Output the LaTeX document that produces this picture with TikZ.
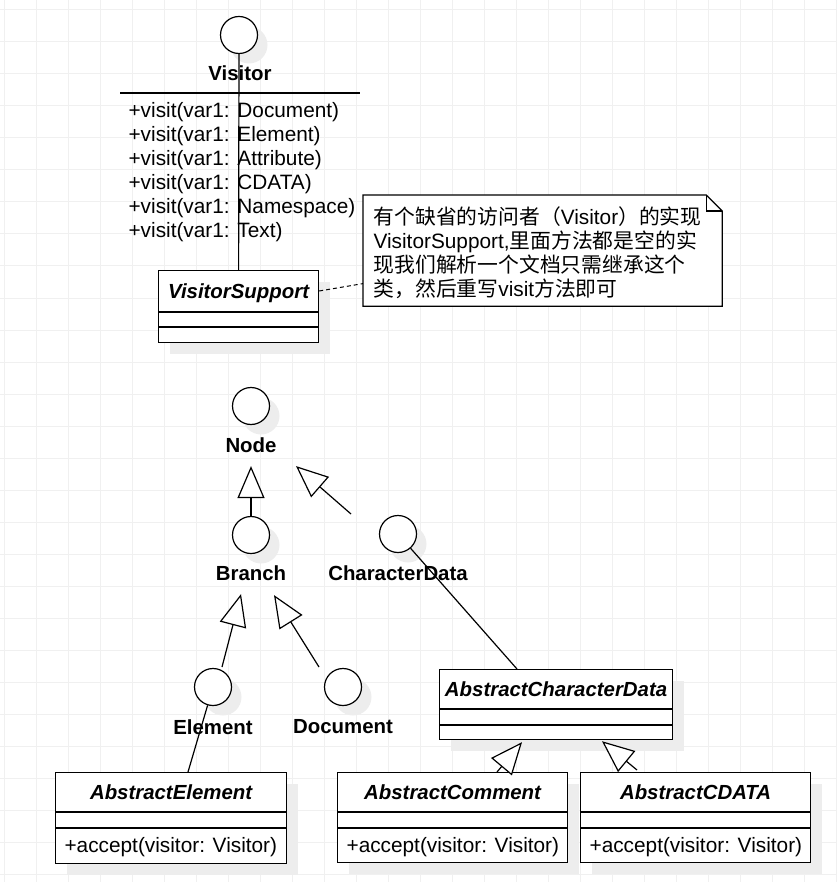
\documentclass[tikz,border=0pt]{standalone}
\usepackage{fontspec}
\setmainfont{Liberation Sans}
\newfontfamily\cjkfont{Noto Sans CJK SC}
\usepackage{tikz}
\usetikzlibrary{positioning}
\usetikzlibrary{calc, shadows, arrows.meta}

\definecolor{gridgray}{HTML}{F0F0F0}
\definecolor{shadowgray}{HTML}{EDEDED}

\begin{document}
\begin{tikzpicture}[x=1pt, y=-1pt, line width=1.2pt]
	\tikzstyle{txt}=[font=\fontsize{20.8}{24}\selectfont, inner sep=0pt]
	\tikzstyle{lbl}=[font=\fontsize{20.4}{24}\selectfont\bfseries, inner sep=0pt]
	\tikzstyle{cname}=[font=\fontsize{20.4}{24}\selectfont\bfseries\itshape, inner sep=0pt]
	\tikzstyle{iface}=[draw, circle, fill=white, minimum size=37pt, inner sep=0pt, drop shadow={shadow xshift=10pt, shadow yshift=-10pt, fill=shadowgray, opacity=1}]
	\tikzstyle{classbox}=[draw, rectangle, fill=white, anchor=north west, inner sep=0pt, drop shadow={shadow xshift=11pt, shadow yshift=-11pt, fill=shadowgray, opacity=1}]
	\tikzstyle{inherit}=[-{Triangle[length=32pt, width=27pt, fill=white]}]

	\useasboundingbox (0,0) rectangle (836,882);
	% grid
	\foreach \gx in {4,36,...,836} \draw[gridgray, line width=1pt] (\gx,0) -- (\gx,882);
	\foreach \gy in {10,42,...,882} \draw[gridgray, line width=1pt] (0,\gy) -- (836,\gy);

	% visitor interface
	\node[iface] (visitorCircle) at (239,35) {};
	\node[lbl] (visitorLabel) at (240,73) {Visitor};
	\draw ($(visitorLabel)+(-120,20)$) -- ($(visitorLabel)+(120,20)$);
	\foreach \t [count=\i] in {Document, Element, Attribute, CDATA, Namespace, Text}
		\node[txt, anchor=west] (visit\i) at (128, 88+24*\i) {+visit(var1: \t)};

	\node[classbox, minimum width=160pt, minimum height=72pt] (visitorSupport) at (158,270) {};
	\node[cname] (visitorSupportName) at ($(visitorSupport.north)+(0,23)$) {VisitorSupport};
	\draw ($(visitorSupport.north west)+(0,42)$) -- ($(visitorSupport.north east)+(0,42)$);
	\draw ($(visitorSupport.north west)+(0,57)$) -- ($(visitorSupport.north east)+(0,57)$);
	\draw (visitorCircle) -- (visitorSupport.north);

	% note
	\node[minimum width=358pt, minimum height=110pt, anchor=north west, inner sep=0pt] (note) at (363,195) {};
	\draw[fill=white] (note.north west) -- ($(note.north east)+(-16,0)$) -- ($(note.north east)+(0,16)$)
		-- (note.south east) -- (note.south west) -- cycle;
	\draw ($(note.north east)+(-16,0)$) -- ++(0,16) -- ++(16,0);
	\node[txt, align=left, anchor=west] (noteText) at ($(note.west)+(10,2)$)
		{{\cjkfont 有个缺省的访问者（}Visitor{\cjkfont ）的实现}\\
		VisitorSupport,{\cjkfont 里面方法都是空的实}\\
		{\cjkfont 现我们解析一个文档只需继承这个}\\
		{\cjkfont 类，然后重写}visit{\cjkfont 方法即可}};
	\draw[dash pattern=on 4pt off 3pt, line width=1pt] ($(visitorSupport.north east)+(0,21)$) -- ($(note.west)+(0,33)$);

	% node hierarchy
	\node[iface] (nodeCircle) at (251,406) {};
	\node[lbl] (nodeLabel) at (251,445) {Node};
	\node[iface] (branchCircle) at (251,535) {};
	\node[lbl] (branchLabel) at (251,573) {Branch};
	\node[iface] (charDataCircle) at (398,534) {};
	\node[lbl] (charDataLabel) at (398,573) {CharacterData};
	\node[iface] (elementCircle) at (213,687) {};
	\node[lbl] (elementLabel) at (213,727) {Element};
	\node[iface] (documentCircle) at (343,687) {};
	\node[lbl] (documentLabel) at (343,727) {Document};

	% abstract classes
	\node[classbox, minimum width=233pt, minimum height=70pt] (absCharData) at (439,669) {};
	\node[cname] (absCharDataName) at ($(absCharData.north)+(0,20)$) {AbstractCharacterData};
	\draw ($(absCharData.north west)+(0,40)$) -- ($(absCharData.north east)+(0,40)$);
	\draw ($(absCharData.north west)+(0,56)$) -- ($(absCharData.north east)+(0,56)$);

	\node[classbox, minimum width=231pt, minimum height=91pt] (absElement) at (55,772) {};
	\node[cname] (absElementName) at ($(absElement.north)+(0,20)$) {AbstractElement};
	\draw ($(absElement.north west)+(0,40)$) -- ($(absElement.north east)+(0,40)$);
	\draw ($(absElement.north west)+(0,56)$) -- ($(absElement.north east)+(0,56)$);
	\node[txt, anchor=west] (absElementOp) at ($(absElement.north west)+(9,75)$) {+accept(visitor: Visitor)};

	\node[classbox, minimum width=230pt, minimum height=90pt] (absComment) at (337,772) {};
	\node[cname] (absCommentName) at ($(absComment.north)+(0,20)$) {AbstractComment};
	\draw ($(absComment.north west)+(0,40)$) -- ($(absComment.north east)+(0,40)$);
	\draw ($(absComment.north west)+(0,56)$) -- ($(absComment.north east)+(0,56)$);
	\node[txt, anchor=west] (absCommentOp) at ($(absComment.north west)+(9,75)$) {+accept(visitor: Visitor)};

	\node[classbox, minimum width=230pt, minimum height=90pt] (absCDATA) at (580,772) {};
	\node[cname] (absCDATAName) at ($(absCDATA.north)+(0,20)$) {AbstractCDATA};
	\draw ($(absCDATA.north west)+(0,40)$) -- ($(absCDATA.north east)+(0,40)$);
	\draw ($(absCDATA.north west)+(0,56)$) -- ($(absCDATA.north east)+(0,56)$);
	\node[txt, anchor=west] (absCDATAOp) at ($(absCDATA.north west)+(9,75)$) {+accept(visitor: Visitor)};

	% connectors
	\draw[inherit] (branchCircle) -- ($(nodeLabel.south)+(0,13)$);
	\draw[inherit] ($(charDataCircle)+(-47,-20)$) -- ($(nodeLabel.south)+(45,13)$);
	\draw[inherit] ($(elementCircle)+(9,-20)$) -- ($(branchLabel.south)+(-10,13)$);
	\draw[inherit] ($(documentCircle)+(-24,-20)$) -- ($(branchLabel.south)+(23,14)$);
	\draw (charDataCircle) -- ($(absCharData.north west)+(78,0)$);
	\draw (elementCircle) -- ($(absElement.north west)+(133,0)$);
	\draw[inherit] ($(absComment.north west)+(160,0)$) -- ($(absCharData.south west)+(83,2)$);
	\draw[inherit] ($(absCDATA.north west)+(57,-2)$) -- ($(absCharData.south west)+(163,1)$);
\end{tikzpicture}
\end{document}
